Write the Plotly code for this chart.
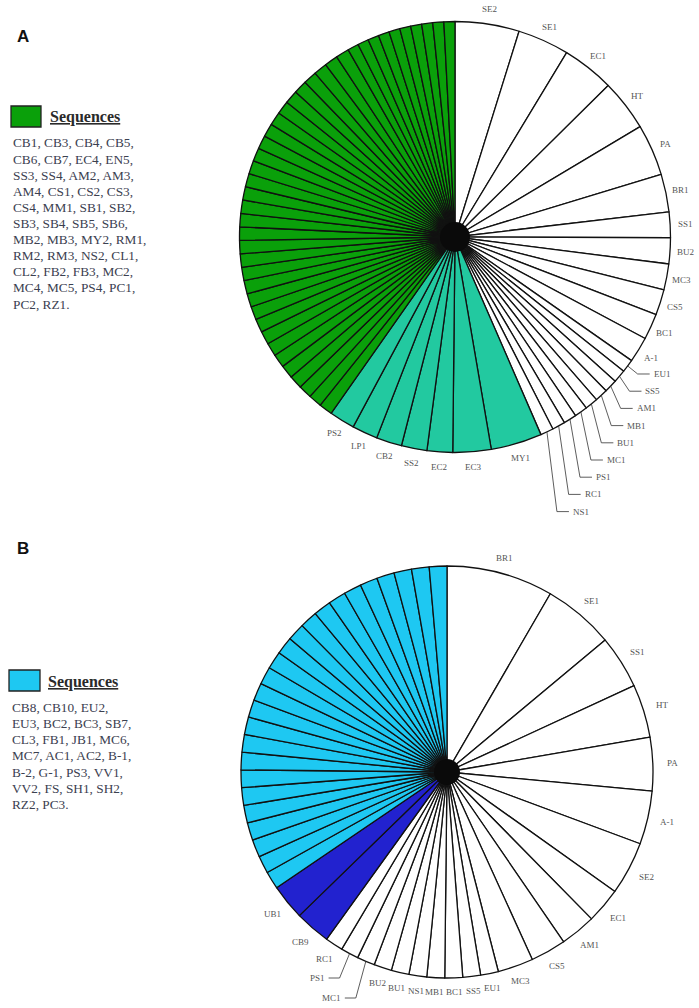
import math
import plotly.graph_objects as go

# ---------------- data ----------------
# Panel A (values in degrees of the pie, clockwise from 12 o'clock)
a_white_labels = ["SE2", "SE1", "EC1", "HT", "PA", "BR1", "SS1", "BU2", "MC3", "CS5", "BC1", "A-1",
                  "EU1", "SS5", "AM1", "MB1", "BU1", "MC1", "PS1", "RC1", "NS1"]
a_white_values = [17.3, 13.9, 14.1, 13.9, 13.9, 10.2, 6.9, 7.0, 7.0, 6.9, 7.0, 6.9,
                  3.5, 3.5, 3.5, 3.5, 3.5, 3.5, 3.5, 3.5, 3.5]
a_teal_labels = ["MY1", "EC3", "EC2", "SS2", "CB2", "LP1", "PS2"]
a_teal_values = [13.8, 10.3, 6.9, 6.9, 6.9, 6.9, 6.9]
a_green_labels = ["CB1", "CB3", "CB4", "CB5", "CB6", "CB7", "EC4", "EN5", "SS3", "SS4", "AM2", "AM3",
                  "AM4", "CS1", "CS2", "CS3", "CS4", "MM1", "SB1", "SB2", "SB3", "SB4", "SB5", "SB6",
                  "MB2", "MB3", "MY2", "RM1", "RM2", "RM3", "NS2", "CL1", "CL2", "FB2", "FB3", "MC2",
                  "MC4", "MC5", "PS4", "PC1", "PC2", "RZ1"]
a_green_values = [3.6] * 32 + [2.97] * 10

# Panel B
b_white_labels = ["BR1", "SE1", "SS1", "HT", "PA", "A-1", "SE2", "EC1", "AM1", "CS5", "MC3",
                  "EU1", "SS5", "BC1", "MB1", "NS1", "BU1", "BU2", "MC1", "PS1", "RC1"]
b_white_values = [30, 20, 15, 15, 15, 15, 15, 10, 10, 10, 10,
                  5, 5, 5, 5, 5, 5, 5, 5, 5, 5]
b_blue_labels = ["CB9", "UB1"]
b_blue_values = [10, 10]
b_cyan_labels = ["CB8", "CB10", "EU2", "EU3", "BC2", "BC3", "SB7", "CL3", "FB1", "JB1", "MC6",
                 "MC7", "AC1", "AC2", "B-1", "B-2", "G-1", "PS3", "VV1", "VV2", "FS", "SH1",
                 "SH2", "RZ2", "PC3"]
b_cyan_values = [4.95] * 25

a_legend_rows = [4, 4, 4, 4, 4, 4, 4, 4, 4, 4, 2]
b_legend_rows = [3, 4, 4, 4, 4, 4, 2]

# ---------------- style / layout ----------------
W, H = 699, 1008
WHITE = "#ffffff"
GREEN = "#0aa00a"
TEAL = "#22c9a0"
CYAN = "#1ec8f2"
BLUE = "#2222cf"
LINE = "#111111"
SERIF = "Liberation Serif, Times New Roman, serif"
LABEL_FONT = dict(family=SERIF, size=9, color="#555555")

# pie geometry in page pixels (centre x, centre y, radius)
PIE_A = (455, 237, 215.5)
PIE_B = (447, 772, 206)
A_LEADERS = ["EU1", "SS5", "AM1", "MB1", "BU1", "MC1", "PS1", "RC1", "NS1"]
A_LEADER_Y0, A_LEADER_DY = 374, 17.2
B_LEADER_Y = {"PS1": 978, "MC1": 998}


def px(x):
    return x / W


def py(y):
    return 1 - y / H


def build(groups):
    labels, values, colors = [], [], []
    shown = []
    for labs, vals, col, show in groups:
        for l, v in zip(labs, vals):
            labels.append(l)
            values.append(v)
            colors.append(col)
            shown.append(show)
    return labels, values, colors, shown


def mid_angles(values):
    tot = sum(values)
    out, acc = [], 0.0
    for v in values:
        out.append((acc + v / 2) / tot * 360.0)
        acc += v
    return out


def polar(pie, r, deg):
    cx, cy, _ = pie
    t = math.radians(deg)
    return cx + r * math.sin(t), cy - r * math.cos(t)


def legend_lines(names, rows):
    lines, i = [], 0
    for n in rows:
        chunk = names[i:i + n]
        i += n
        end = "." if i >= len(names) else ","
        lines.append(", ".join(chunk) + end)
    return lines


la, va, ca, sa = build([
    (a_white_labels, a_white_values, WHITE, True),
    (a_teal_labels, a_teal_values, TEAL, True),
    (a_green_labels, a_green_values, GREEN, False),
])
lb, vb, cb, sb = build([
    (b_white_labels, b_white_values, WHITE, True),
    (b_blue_labels, b_blue_values, BLUE, True),
    (b_cyan_labels, b_cyan_values, CYAN, False),
])


def pie_trace(labels, values, colors, pie):
    cx, cy, r = pie
    return go.Pie(
        labels=labels, values=values, textinfo="none",
        sort=False, direction="clockwise", rotation=0,
        marker=dict(colors=colors, line=dict(color=LINE, width=1.3)),
        showlegend=False, hoverinfo="label",
        domain=dict(x=[px(cx - r), px(cx + r)], y=[py(cy + r), py(cy - r)]),
    )


fig = go.Figure()
fig.add_trace(pie_trace(la, va, ca, PIE_A))
fig.add_trace(pie_trace(lb, vb, cb, PIE_B))

annotations, shapes = [], []


def add_text(x, y, text, font, xanchor="center", yanchor="middle"):
    annotations.append(dict(x=px(x), y=py(y), xref="paper", yref="paper", text=text, showarrow=False,
                            xanchor=xanchor, yanchor=yanchor, font=font))


def add_path(points, color="#333", width=0.8):
    d = "M " + " L ".join(f"{px(x):.5f},{py(y):.5f}" for x, y in points)
    shapes.append(dict(type="path", xref="paper", yref="paper", path=d,
                       line=dict(color=color, width=width)))


# slice labels, panel A
mids = mid_angles(va)
for lab, ang, show in zip(la, mids, sa):
    if not show:
        continue
    R = PIE_A[2]
    if lab in A_LEADERS:
        i = A_LEADERS.index(lab)
        x0, y0 = polar(PIE_A, R, ang)
        ey = A_LEADER_Y0 + i * A_LEADER_DY
        ex = x0 + 10
        add_path([(x0, y0), (ex, ey), (ex + 12, ey)])
        add_text(ex + 14, ey, lab, LABEL_FONT, xanchor="left")
    else:
        x, y = polar(PIE_A, R + 15, ang)
        add_text(x, y, lab, LABEL_FONT)

# slice labels, panel B
mids = mid_angles(vb)
for lab, ang, show in zip(lb, mids, sb):
    if not show:
        continue
    R = PIE_B[2]
    if lab in B_LEADER_Y:
        x0, y0 = polar(PIE_B, R, ang)
        ey = B_LEADER_Y[lab]
        ex = x0 - 10
        add_path([(x0, y0), (ex, ey), (ex - 11, ey)])
        add_text(ex - 13, ey, lab, LABEL_FONT, xanchor="right")
    else:
        r = R + 14 + 6 * abs(math.sin(math.radians(ang)))
        x, y = polar(PIE_B, r, ang)
        add_text(x, y, lab, LABEL_FONT)

# centre blobs where the slice borders converge
for (cx, cy, _), rb in ((PIE_A, 15), (PIE_B, 13)):
    shapes.append(dict(type="circle", xref="paper", yref="paper",
                       x0=px(cx - rb), x1=px(cx + rb), y0=py(cy + rb), y1=py(cy - rb),
                       fillcolor="#0a0a0a", line=dict(width=0)))

# panel letters
add_text(23, 37, "<b>A</b>", dict(family="Liberation Sans, Arial", size=17, color="#111"))
add_text(23, 548, "<b>B</b>", dict(family="Liberation Sans, Arial", size=17, color="#111"))

# legends
LEG_FONT = dict(family=SERIF, size=13.3, color="#3b4050")
HEAD_FONT = dict(family=SERIF, size=16, color="#2a2a2a")
for box, col, head_xy, names, rows, x0, y0, dy in (
        ((11, 106, 41, 127), GREEN, (48, 117), a_green_labels, a_legend_rows, 11, 143, 16.1),
        ((9, 670, 40, 691), CYAN, (46, 682), b_cyan_labels, b_legend_rows, 10, 707, 16.3)):
    shapes.append(dict(type="rect", xref="paper", yref="paper",
                       x0=px(box[0]), x1=px(box[2]), y0=py(box[3]), y1=py(box[1]),
                       fillcolor=col, line=dict(color="#222", width=1.3)))
    add_text(head_xy[0], head_xy[1], "<b><u>Sequences</u></b>", HEAD_FONT, xanchor="left")
    for i, line in enumerate(legend_lines(names, rows)):
        add_text(x0, y0 + i * dy, line, LEG_FONT, xanchor="left")

fig.update_layout(
    width=W, height=H, autosize=False,
    margin=dict(l=0, r=0, t=0, b=0),
    paper_bgcolor="white", plot_bgcolor="white",
    annotations=annotations, shapes=shapes,
)
fig.write_html("out.html", config={"displayModeBar": False},
               post_script="document.body.style.margin='0';")
